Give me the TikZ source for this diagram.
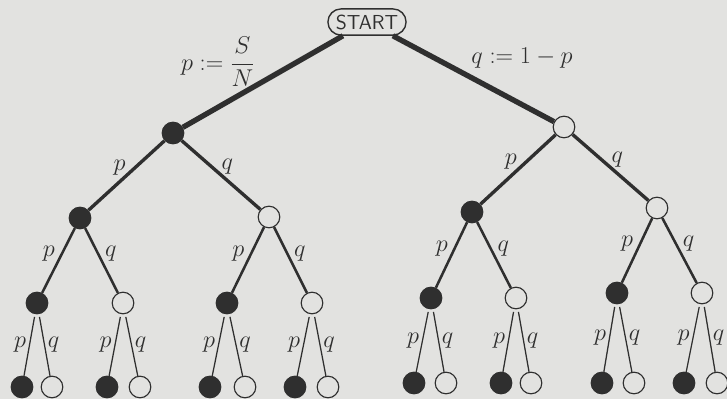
\documentclass[tikz,border=0pt]{standalone}
\usetikzlibrary{positioning,shapes.misc}
\definecolor{paper}{HTML}{E2E2E0}
\definecolor{ink}{HTML}{2F2F2F}
\tikzset{
  full/.style={circle,draw=ink,fill=ink,line width=.8pt,minimum size=5.4mm,inner sep=0pt},
  hollow/.style={circle,draw=ink,fill=paper,line width=.8pt,minimum size=5.4mm,inner sep=0pt},
  br0/.style={draw=ink,line width=3.8pt},
  br1/.style={draw=ink,line width=2.4pt},
  br2/.style={draw=ink,line width=1.8pt},
  br3/.style={draw=ink,line width=.9pt,shorten <=2pt},
  lab/.style={font=\LARGE,text=ink,inner sep=2pt}
}
\begin{document}
\begin{tikzpicture}[x=.25mm,y=-.25mm]
  \fill[paper] (0,0) rectangle (727,399);
  \useasboundingbox (0,0) rectangle (727,399);

  \node[rounded rectangle,draw=ink,line width=1pt,inner xsep=4pt,inner ysep=4pt,
    text=ink,font=\Large\sffamily] (start) at (367,22) {START};

  % first split
  \node[full] (a) at (173,133) {};
  \node[hollow] (b) at (564,127) {};
  \draw[br0] (start) -- (a);
  \draw[br0] (start) -- (b);
  \node[lab] at (218,62) {$p:=\displaystyle\frac{S}{N}$};
  \node[lab] at (522,58) {$q:=1-p$};

  % second level
  \node[full] (aa) at (80,218) {};
  \node[hollow] (ab) at (269,217) {};
  \node[full] (ba) at (472,212) {};
  \node[hollow] (bb) at (657,208) {};
  \foreach \nd in {a,b}{
    \draw[br1] (\nd) -- node[lab,pos=.38,left=4pt]{$p$} (\nd a);
    \draw[br1] (\nd) -- node[lab,pos=.38,right=4pt]{$q$} (\nd b);
  }

  % third level
  \node[full] (aaa) at (37,303) {};
  \node[hollow] (aab) at (123,303) {};
  \node[full] (aba) at (227,303) {};
  \node[hollow] (abb) at (312,303) {};
  \node[full] (baa) at (431,298) {};
  \node[hollow] (bab) at (516,298) {};
  \node[full] (bba) at (617,293) {};
  \node[hollow] (bbb) at (702,293) {};
  \foreach \nd in {aa,ab,ba,bb}{
    \draw[br2] (\nd) -- node[lab,pos=.4,left=2pt]{$p$} (\nd a);
    \draw[br2] (\nd) -- node[lab,pos=.4,right=2pt]{$q$} (\nd b);
  }

  % leaves
  \foreach \nd/\xf/\xh/\y in {aaa/22/52/387,aab/107/140/387,aba/210/245/387,abb/295/328/387,
      baa/414/446/383,bab/501/531/383,bba/602/634/383,bbb/684/717/383}{
    \node[full] (\nd p) at (\xf,\y) {};
    \node[hollow] (\nd q) at (\xh,\y) {};
    \draw[br3] (\nd) -- node[lab,left=0pt]{$p$} (\nd p);
    \draw[br3] (\nd) -- node[lab,right=0pt]{$q$} (\nd q);
  }
\end{tikzpicture}
\end{document}
